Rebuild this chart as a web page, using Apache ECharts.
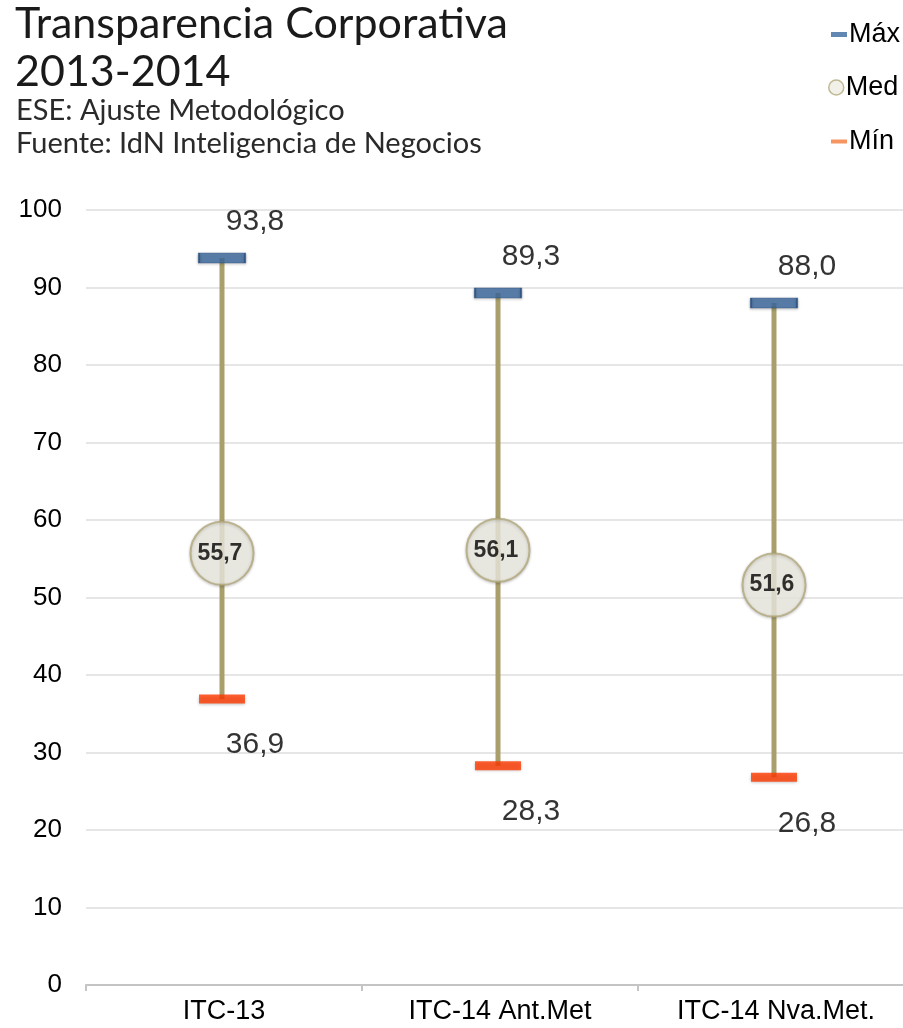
<!DOCTYPE html>
<html>
<head>
<meta charset="utf-8">
<script src="https://cdn.jsdelivr.net/npm/echarts@6/dist/echarts.min.js"></script>
<style>html,body{margin:0;padding:0;background:#fff;overflow:hidden;}#c{width:914px;height:1028px;}</style>
</head>
<body>
<div id="c"></div>
<script>
const categories = ['ITC-13', 'ITC-14 Ant.Met', 'ITC-14 Nva.Met.'];
const maxValues = [93.8, 89.3, 88.0];
const medValues = [55.7, 56.1, 51.6];
const minValues = [36.9, 28.3, 26.8];
const yTicks = [0, 10, 20, 30, 40, 50, 60, 70, 80, 90, 100];

const fmt = v => v.toFixed(1).replace('.', ',');
const numFont = '"Liberation Sans", Arial, sans-serif';
const titleFont = 'Lato, "Open Sans", sans-serif';

const chart = echarts.init(document.getElementById('c'));
chart.setOption({
  animation: false,
  backgroundColor: '#fff',
  title: [
    { text: 'Transparencia Corporativa\n2013-2014', left: 10, top: -5,
      textStyle: { fontFamily: titleFont, fontWeight: 'normal', fontSize: 43, lineHeight: 48, color: '#1a1a1a' } },
    { text: 'ESE: Ajuste Metodológico\nFuente: IdN Inteligencia de Negocios', left: 11, top: 89,
      textStyle: { fontFamily: titleFont, fontWeight: 'normal', fontSize: 29, lineHeight: 33, color: '#2a2a2a' } }
  ],
  legend: [
    { data: [{ name: 'Máx', icon: 'rect' }], left: 826, top: 16, itemWidth: 16, itemHeight: 5, itemGap: 4,
      itemStyle: { borderWidth: 0 },
      textStyle: { fontFamily: numFont, fontSize: 27, color: '#000', padding: [0,0,0,-3] } },
    { data: [{ name: 'Med', icon: 'circle' }], left: 823, top: 69, itemWidth: 15, itemHeight: 15,
      itemStyle: { borderWidth: 1.5 },
      textStyle: { fontFamily: numFont, fontSize: 27, color: '#000', padding: [0,0,0,-3] } },
    { data: [{ name: 'Mín', icon: 'rect', itemStyle: { color: '#f47a3a' } }], left: 826, top: 123, itemWidth: 16, itemHeight: 4,
      textStyle: { fontFamily: numFont, fontSize: 27, color: '#000', padding: [0,0,0,-3] } }
  ],
  grid: { left: 86, top: 210, bottom: 43, right: 0 },
  xAxis: {
    type: 'category', data: categories, boundaryGap: true,
    axisLine: { lineStyle: { color: '#c4c4c4', width: 2 } },
    axisTick: { show: true, length: 6, lineStyle: { color: '#c4c4c4', width: 2 } },
    axisLabel: { fontFamily: numFont, fontSize: 27, color: '#000', margin: 13 }
  },
  yAxis: {
    type: 'value', min: yTicks[0], max: yTicks[yTicks.length - 1], interval: 10,
    axisLine: { show: false }, axisTick: { show: false },
    axisLabel: { fontFamily: numFont, fontSize: 26, color: '#000', margin: 24 },
    splitLine: { lineStyle: { color: '#e6e6e6', width: 2 } }
  },
  series: [
    {
      type: 'custom', name: 'range', silent: true, z: 1,
      data: categories.map((c, i) => [i, minValues[i], maxValues[i]]),
      renderItem: (params, api) => {
        const p1 = api.coord([api.value(0), api.value(1)]);
        const p2 = api.coord([api.value(0), api.value(2)]);
        return { type: 'line', shape: { x1: p1[0] - 2, y1: p1[1], x2: p2[0] - 2, y2: p2[1] },
          style: { stroke: '#a99f6c', lineWidth: 5 } };
      }
    },
    {
      type: 'scatter', name: 'Máx', data: maxValues, z: 3,
      symbol: 'rect', symbolSize: [46, 10], symbolOffset: [-2, 0],
      itemStyle: { color: '#3b699f', borderColor: '#2d5282', borderWidth: 1, shadowBlur: 3, shadowColor: 'rgba(0,0,0,0.3)', shadowOffsetY: 1 },
      label: { show: true, position: 'inside', offset: [33, -36], formatter: p => fmt(p.value),
        fontFamily: numFont, fontSize: 30, color: '#000' }
    },
    {
      type: 'scatter', name: 'Med', data: medValues, z: 4,
      symbol: 'circle', symbolSize: 63, symbolOffset: [-2, 0],
      itemStyle: { color: '#efede3', borderColor: '#b3a97c', borderWidth: 2, shadowBlur: 3, shadowColor: 'rgba(0,0,0,0.25)', shadowOffsetY: 1 },
      label: { show: true, position: 'inside', offset: [-2, 0], formatter: p => fmt(p.value),
        fontFamily: numFont, fontSize: 23, fontWeight: 'bold', color: '#000' }
    },
    {
      type: 'scatter', name: 'Mín', data: minValues, z: 3,
      symbol: 'rect', symbolSize: [46, 9], symbolOffset: [-2, 0],
      itemStyle: { color: '#ff3a00', shadowBlur: 3, shadowColor: 'rgba(0,0,0,0.3)', shadowOffsetY: 1 },
      label: { show: true, position: 'inside', offset: [33, 46], formatter: p => fmt(p.value),
        fontFamily: numFont, fontSize: 30, color: '#000' }
    }
  ]
});
</script>
</body>
</html>
